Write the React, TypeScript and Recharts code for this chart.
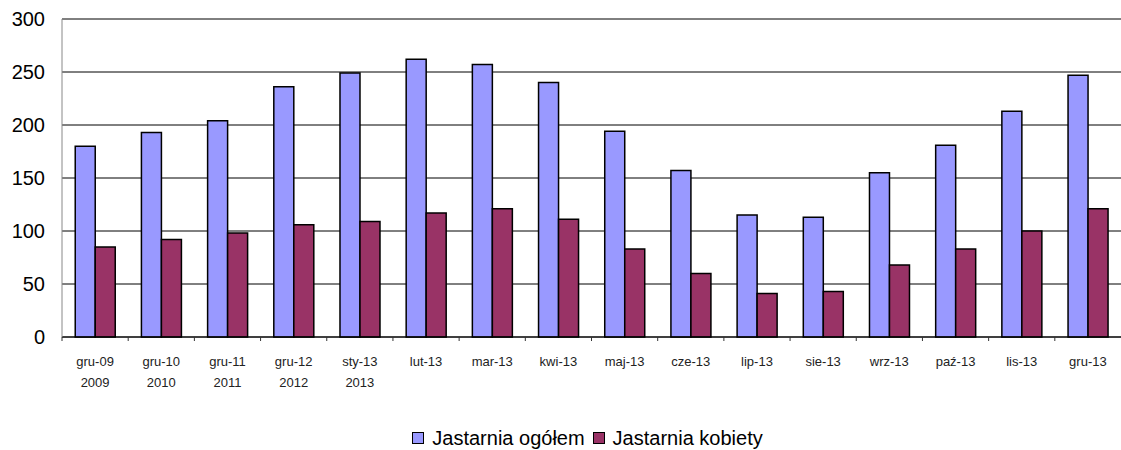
import {
  Bar,
  BarChart,
  CartesianGrid,
  Legend,
  XAxis,
  YAxis,
} from "recharts";

const months = [
  "gru-09", "gru-10", "gru-11", "gru-12", "sty-13", "lut-13", "mar-13", "kwi-13",
  "maj-13", "cze-13", "lip-13", "sie-13", "wrz-13", "paź-13", "lis-13", "gru-13",
];
const years = ["2009", "2010", "2011", "2012", "2013", "", "", "", "", "", "", "", "", "", "", ""];
const ogolem = [180, 193, 204, 236, 249, 262, 257, 240, 194, 157, 115, 113, 155, 181, 213, 247];
const kobiety = [85, 92, 98, 106, 109, 117, 121, 111, 83, 60, 41, 43, 68, 83, 100, 121];
const yTicks = [0, 50, 100, 150, 200, 250, 300];

const SERIES = [
  { key: "ogolem", name: "Jastarnia ogółem", color: "#9999FF" },
  { key: "kobiety", name: "Jastarnia kobiety", color: "#993366" },
];

const FONT = "'Liberation Sans', Arial, sans-serif";
const WIDTH = 1121;
const HEIGHT = 450;
const Y_AXIS_W = 62;
const PLOT_W = WIDTH - Y_AXIS_W;
const BAND = PLOT_W / months.length;
const LEGEND_H = 24;

const data = months.map((m, i) => ({
  month: m,
  year: years[i],
  ogolem: ogolem[i],
  kobiety: kobiety[i],
}));

const MonthTick = ({ x, y, payload, index }: any) => {
  const year = years[index] || "";
  const left = x - BAND / 2;
  return (
    <g>
      <line x1={left} x2={left} y1={y} y2={y + 4} stroke="#333" strokeWidth={1} />
      <text
        x={x}
        y={y + 29}
        textAnchor="middle"
        fontSize={13}
        fill="#222"
        fontFamily={FONT}
      >
        {payload.value}
      </text>
      {year && (
        <text
          x={x}
          y={y + 50}
          textAnchor="middle"
          fontSize={13}
          fill="#222"
          fontFamily={FONT}
        >
          {year}
        </text>
      )}
    </g>
  );
};

const LegendContent = () => (
  <div
    style={{
      display: "flex",
      justifyContent: "center",
      alignItems: "center",
      height: LEGEND_H,
      fontFamily: FONT,
      fontSize: 20,
      color: "#000",
    }}
  >
    {SERIES.map((s) => (
      <div
        key={s.key}
        style={{ display: "flex", alignItems: "center", marginRight: 8 }}
      >
        <span
          style={{
            display: "inline-block",
            width: 10,
            height: 10,
            background: s.color,
            border: "1px solid #000",
            marginRight: 8,
          }}
        />
        <span>{s.name}</span>
      </div>
    ))}
  </div>
);

export default function App() {
  return (
    <div style={{ position: "absolute", left: 0, top: 0, background: "#fff" }}>
      <BarChart
        width={WIDTH}
        height={HEIGHT}
        data={data}
        margin={{ top: 19, right: 0, left: 0, bottom: 0 }}
        barCategoryGap="20%"
        barGap={0}
      >
        <CartesianGrid vertical={false} stroke="#000" strokeWidth={1} />
        <XAxis
          dataKey="month"
          height={113 - LEGEND_H}
          axisLine={{ stroke: "#000" }}
          tickLine={false}
          tickSize={0}
          tickMargin={0}
          interval={0}
          tick={<MonthTick />}
        />
        <YAxis
          width={Y_AXIS_W}
          domain={[0, 300]}
          ticks={yTicks}
          axisLine={{ stroke: "#888" }}
          tickLine={false}
          tickSize={0}
          tickMargin={17}
          tick={{ fontSize: 20, fill: "#000", fontFamily: FONT }}
        />
        <Legend
          content={<LegendContent />}
          wrapperStyle={{ left: Y_AXIS_W, width: PLOT_W, top: 426 }}
        />
        {SERIES.map((s) => (
          <Bar
            key={s.key}
            dataKey={s.key}
            name={s.name}
            fill={s.color}
            stroke="#000"
            strokeWidth={1.5}
            isAnimationActive={false}
          />
        ))}
      </BarChart>
    </div>
  );
}
